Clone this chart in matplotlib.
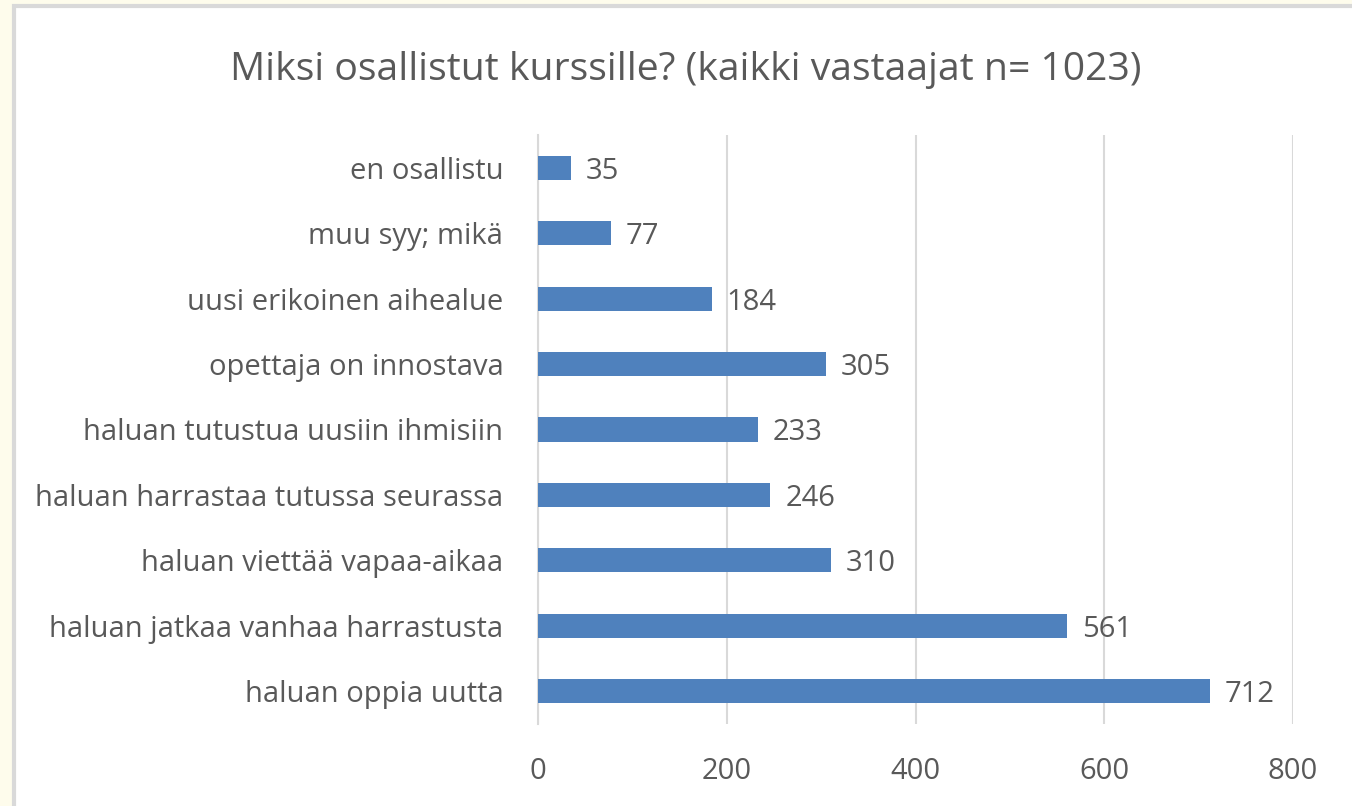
import matplotlib.pyplot as plt
from matplotlib.patches import Rectangle

plt.rcParams['font.family'] = ['Open Sans', 'DejaVu Sans']

categories = ['haluan oppia uutta', 'haluan jatkaa vanhaa harrastusta',
              'haluan viettää vapaa-aikaa', 'haluan harrastaa tutussa seurassa',
              'haluan tutustua uusiin ihmisiin', 'opettaja on innostava',
              'uusi erikoinen aihealue', 'muu syy; mikä', 'en osallistu']
values = [712, 561, 310, 246, 233, 305, 184, 77, 35]
xticks = [0, 200, 400, 600, 800]

text_col = '#595959'
bar_col = '#4F81BD'
grid_col = '#D9D9D9'

fig = plt.figure(figsize=(13.52, 8.06), dpi=100)
fig.patch.set_facecolor('#FEFCEC')
# white chart box with light border
fig.patches.append(Rectangle((14 / 1352, -0.1), 1.2, 1.1 - 6 / 806, transform=fig.transFigure,
                             facecolor='white', edgecolor=grid_col, linewidth=3, zorder=-5))

ax = fig.add_axes([538 / 1352, 1 - 723.7 / 806, (1293 - 538) / 1352, (723.7 - 135.3) / 806])
ax.set_facecolor('none')
y = range(len(categories))
ax.barh(y, values, height=0.37, color=bar_col, zorder=3)
for yi, v in zip(y, values):
    ax.text(v + 16, yi, str(v), va='center_baseline', ha='left', fontsize=21, color=text_col)

ax.set_xlim(0, 800)
ax.set_ylim(-0.5, len(categories) - 0.5)
ax.set_xticks(xticks)
ax.set_xticklabels([str(t) for t in xticks])
ax.set_yticks(list(y))
ax.set_yticklabels(categories)
ax.tick_params(axis='both', length=0, labelsize=21, labelcolor=text_col)
ax.tick_params(axis='x', pad=24)
ax.tick_params(axis='y', pad=25)
ax.grid(axis='x', color=grid_col, linewidth=1.5, zorder=0)
for s in ['top', 'right', 'bottom']:
    ax.spines[s].set_visible(False)
ax.spines['left'].set_color(grid_col)
ax.spines['left'].set_linewidth(1.5)

fig.text(686 / 1352, 1 - 70 / 806, 'Miksi osallistut kurssille? (kaikki vastaajat n= 1023)',
         ha='center', va='center', fontsize=28.2, color=text_col)

fig.savefig('out.png', dpi=100)
